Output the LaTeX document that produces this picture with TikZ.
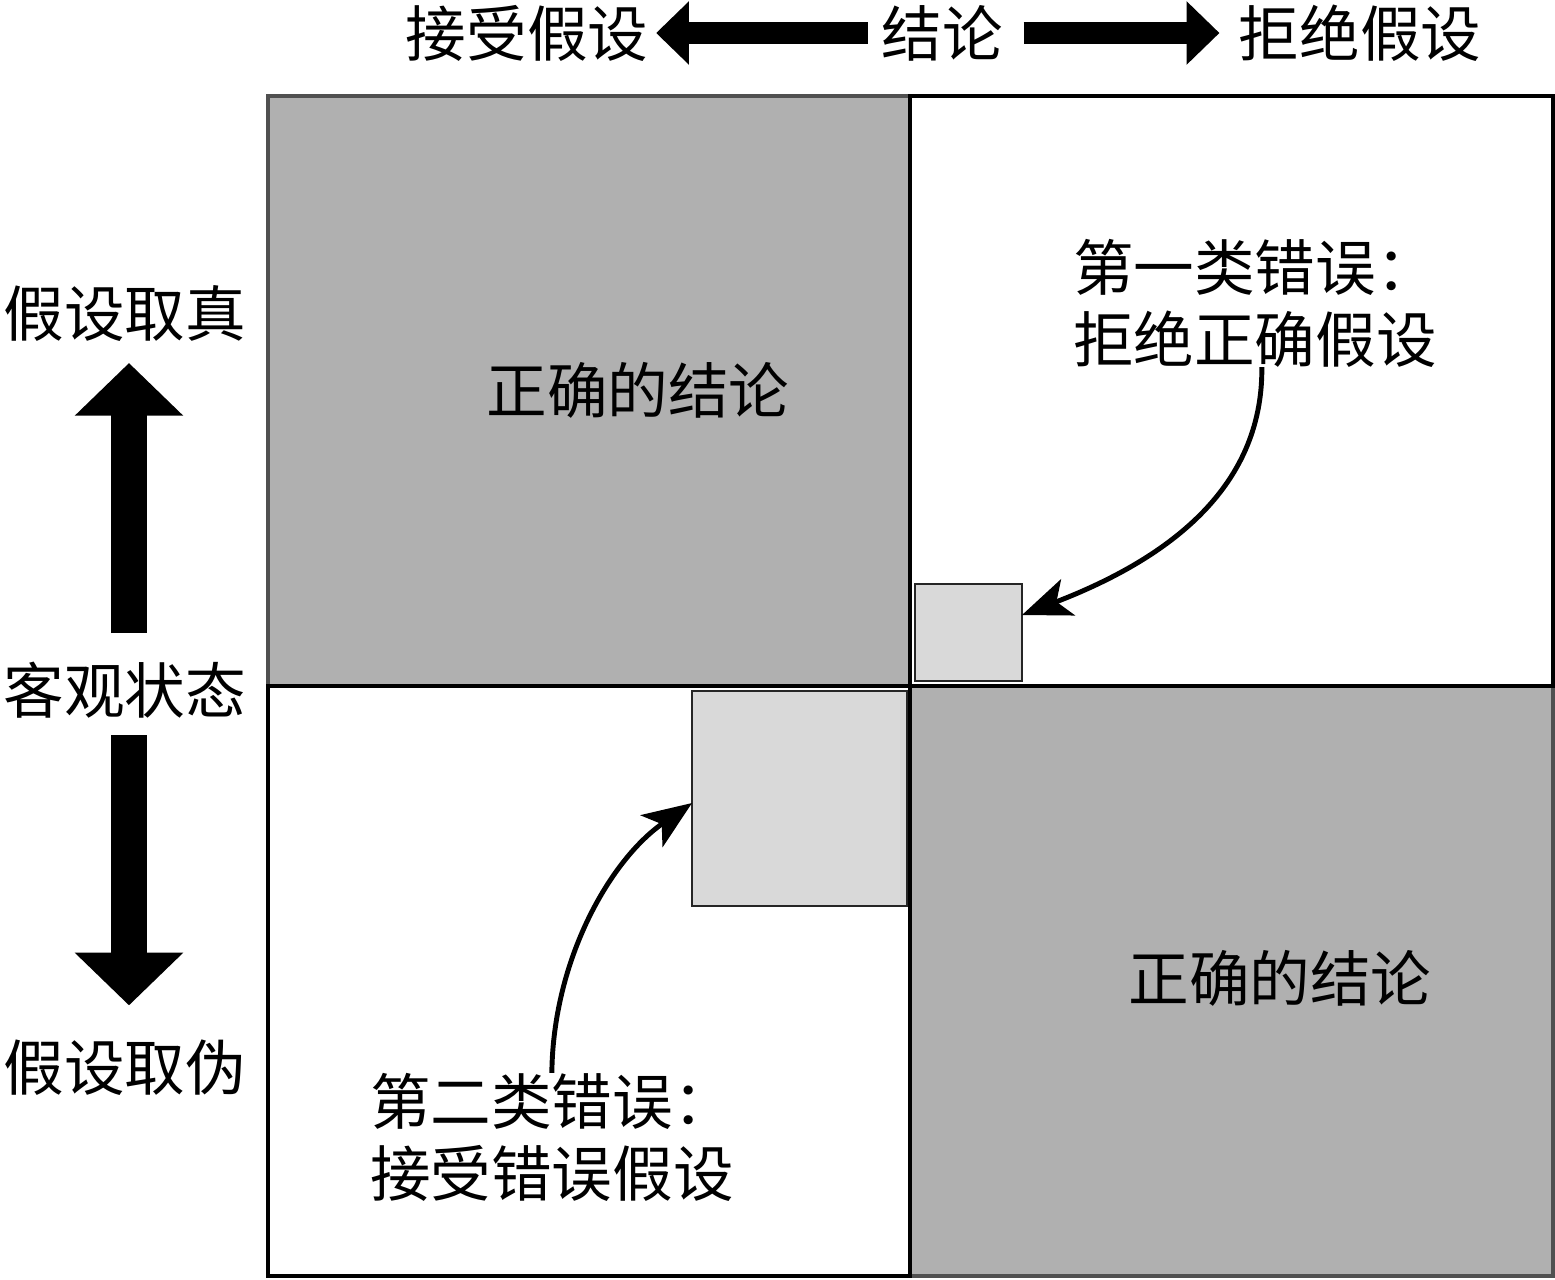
\documentclass[tikz,border=0pt]{standalone}
\usepackage{fontspec}
\newfontfamily\cjk{Noto Sans CJK SC}
\usetikzlibrary{arrows.meta,calc}
\definecolor{quadgray}{HTML}{B0B0B0}
\definecolor{edgegray}{HTML}{505050}
\definecolor{boxgray}{HTML}{D9D9D9}
\begin{document}
\begin{tikzpicture}[x=0.02cm,y=-0.02cm,
 lbl/.style={font=\cjk\fontsize{34.5}{41}\selectfont, inner sep=0pt, outer sep=0pt},
 quadg/.style={fill=quadgray, draw=edgegray, line width=2.5pt},
 quadw/.style={fill=white, draw=black, line width=2.5pt},
 errbox/.style={fill=boxgray, draw=black!85, line width=1.3pt, inner sep=0pt, outer sep=0pt},
 fath/.style={draw=black, line width=13pt, -{Triangle[length=18.7pt,width=35pt]}},
 fatv/.style={draw=black, line width=20.4pt, -{Triangle[length=30pt,width=60pt]}},
 curv/.style={draw=black, line width=2.8pt, -{Stealth[length=28pt,width=22pt,inset=7pt]}}
]
\useasboundingbox (0,0) rectangle (1555,1279);
% quadrants
\path[quadg] (268,96) rectangle (910,686);
\path[quadg] (910,686) rectangle (1553,1276);
\path[quadw] (910,96) rectangle (1553,686);
\path[quadw] (268,686) rectangle (910,1276);
% error boxes
\node[errbox, minimum width=2.14cm, minimum height=1.94cm] (sq1) at (968.5,632.5) {};
\node[errbox, minimum width=4.3cm, minimum height=4.3cm] (sq2) at (799.5,798.5) {};
% labels
\node[lbl] (accept) at (527,33) {接受假设};
\node[lbl] (concl) at (942,33) {结论};
\node[lbl] (reject) at (1360,33) {拒绝假设};
\node[lbl] (htrue) at (125,313) {假设取真};
\node[lbl] (state) at (125,690) {客观状态};
\node[lbl] (hfalse) at (125,1068) {假设取伪};
\node[lbl] (ok1) at (638,390) {正确的结论};
\node[lbl] (ok2) at (1280,978) {正确的结论};
\node[lbl, align=left, anchor=west] (err1) at (1073,303) {第一类错误：\\拒绝正确假设};
\node[lbl, align=left, anchor=west] (err2) at (370,1137) {第二类错误：\\接受错误假设};
% fat arrows
\draw[fath, shorten <=7.9pt, shorten >=4.5pt] (concl.west) -- (accept.east);
\draw[fath, shorten <=12pt, shorten >=11pt] (concl.east) -- (reject.west);
\draw[fatv, shorten <=16.4pt, shorten >=12.5pt] ([xshift=0.08cm]state.north) -- ([xshift=0.08cm]htrue.south);
\draw[fatv, shorten <=9.6pt, shorten >=19.8pt] ([xshift=0.08cm]state.south) -- ([xshift=0.08cm]hfalse.north);
% curved arrows
\draw[curv] ([xshift=0.14cm]err1.south) .. controls (1263,490) and (1165,560) .. ([yshift=0.35cm]sq1.east);
\draw[curv] (err2.north) .. controls (553,960) and (610,860) .. ([yshift=-0.09cm]sq2.west);
\end{tikzpicture}
\end{document}
